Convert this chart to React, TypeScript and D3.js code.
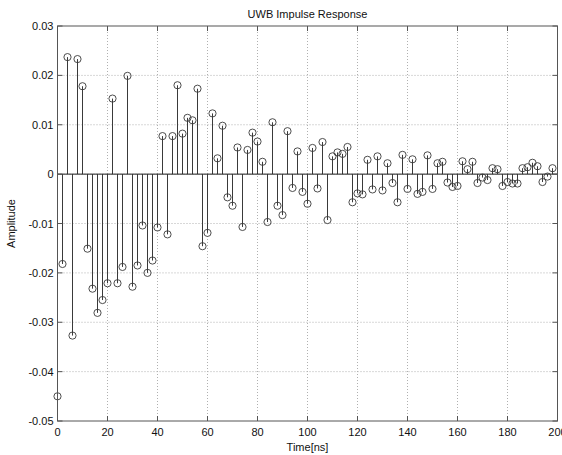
import React from "react";
import * as d3 from "d3";

const times: number[] = d3.range(0, 200, 2);
const amplitudes: number[] = [
  -0.045, -0.0182, 0.0237, -0.0327, 0.0233, 0.0178, -0.0151, -0.0232, -0.0281, -0.0255,
  -0.0221, 0.0153, -0.0221, -0.0188, 0.0199, -0.0228, -0.0185, -0.0104, -0.02, -0.0175,
  -0.0108, 0.0077, -0.0122, 0.0077, 0.018, 0.0082, 0.0114, 0.0109, 0.0173, -0.0146,
  -0.0119, 0.0123, 0.0032, 0.0098, -0.0047, -0.0064, 0.0054, -0.0107, 0.0049, 0.0084,
  0.0066, 0.0025, -0.0097, 0.0105, -0.0064, -0.0083, 0.0087, -0.0028, 0.0046, -0.0036,
  -0.006, 0.0053, -0.0029, 0.0065, -0.0093, 0.0036, 0.0044, 0.0041, 0.0055, -0.0057,
  -0.0039, -0.0041, 0.0029, -0.0031, 0.0036, -0.0033, 0.0022, -0.0018, -0.0057, 0.0039,
  -0.003, 0.003, -0.004, -0.0036, 0.0038, -0.003, 0.0022, 0.0025, -0.0017, -0.0026,
  -0.0024, 0.0026, 0.001, 0.0025, -0.0018, -0.0007, -0.0012, 0.0012, 0.001, -0.0024,
  -0.0016, -0.0019, -0.0019, 0.0012, 0.0014, 0.0023, 0.0016, -0.0016, -0.0005, 0.0012,
];
const xTicks: number[] = [0, 20, 40, 60, 80, 100, 120, 140, 160, 180, 200];
const yTicks: number[] = [0.03, 0.02, 0.01, 0, -0.01, -0.02, -0.03, -0.04, -0.05];
const yTickLabels: string[] = ["0.03", "0.02", "0.01", "0", "-0.01", "-0.02", "-0.03", "-0.04", "-0.05"];
const title = "UWB Impulse Response";
const xLabel = "Time[ns]";
const yLabel = "Amplitude";

export default function App() {
  const W = 562, H = 455;
  const left = 57.5, right = 557.5, top = 26, bottom = 421;
  const x = d3.scaleLinear().domain([0, 200]).range([left, right]);
  const y = d3.scaleLinear().domain([-0.05, 0.03]).range([bottom, top]);
  const font = "Arial, 'Liberation Sans', Helvetica, sans-serif";
  const axisColor = "#555";
  const gridColor = "#b0b0b0";
  const stemColor = "#3a3a3a";
  return (
    <svg width={W} height={H} style={{ position: "absolute", left: 0, top: 0, background: "#fff" }} fontFamily={font}>
      <rect x={0} y={0} width={W} height={H} fill="#fff" />
      {/* grid */}
      {xTicks.slice(1, -1).map((t) => (
        <line key={"gx" + t} x1={x(t)} x2={x(t)} y1={top} y2={bottom} stroke={gridColor} strokeWidth={1} strokeDasharray="1,2" />
      ))}
      {yTicks.slice(1, -1).map((t) => (
        <line key={"gy" + t} x1={left} x2={right} y1={y(t)} y2={y(t)} stroke={gridColor} strokeWidth={1} strokeDasharray="1,2" />
      ))}
      {/* stems */}
      {times.map((t, i) => (
        <line key={"s" + i} x1={x(t)} x2={x(t)} y1={y(0)} y2={y(amplitudes[i])} stroke={stemColor} strokeWidth={1} />
      ))}
      <line x1={left} x2={right} y1={y(0)} y2={y(0)} stroke="#222" strokeWidth={1} />
      {times.map((t, i) => (
        <circle key={"c" + i} cx={x(t)} cy={y(amplitudes[i])} r={3.6} fill="none" stroke={stemColor} strokeWidth={0.9} />
      ))}
      {/* box */}
      <rect x={left} y={top} width={right - left} height={bottom - top} fill="none" stroke={axisColor} strokeWidth={1} />
      {/* ticks */}
      {xTicks.map((t) => (
        <g key={"tx" + t}>
          <line x1={x(t)} x2={x(t)} y1={bottom} y2={bottom - 5} stroke={axisColor} />
          <line x1={x(t)} x2={x(t)} y1={top} y2={top + 5} stroke={axisColor} />
          <text x={x(t)} y={436} textAnchor="middle" fontSize={11} fill="#111">{t}</text>
        </g>
      ))}
      {yTicks.map((t, i) => (
        <g key={"ty" + t}>
          <line x1={left} x2={left + 5} y1={y(t)} y2={y(t)} stroke={axisColor} />
          <line x1={right} x2={right - 5} y1={y(t)} y2={y(t)} stroke={axisColor} />
          <text x={left - 4} y={y(t) + 4} textAnchor="end" fontSize={11} fill="#111">{yTickLabels[i]}</text>
        </g>
      ))}
      <text x={(left + right) / 2} y={451} textAnchor="middle" fontSize={11} fill="#111">{xLabel}</text>
      <text x={(left + right) / 2} y={18} textAnchor="middle" fontSize={11} fill="#111">{title}</text>
      <text transform={`translate(15,${(top + bottom) / 2}) rotate(-90)`} textAnchor="middle" fontSize={11} fill="#111">{yLabel}</text>
    </svg>
  );
}
